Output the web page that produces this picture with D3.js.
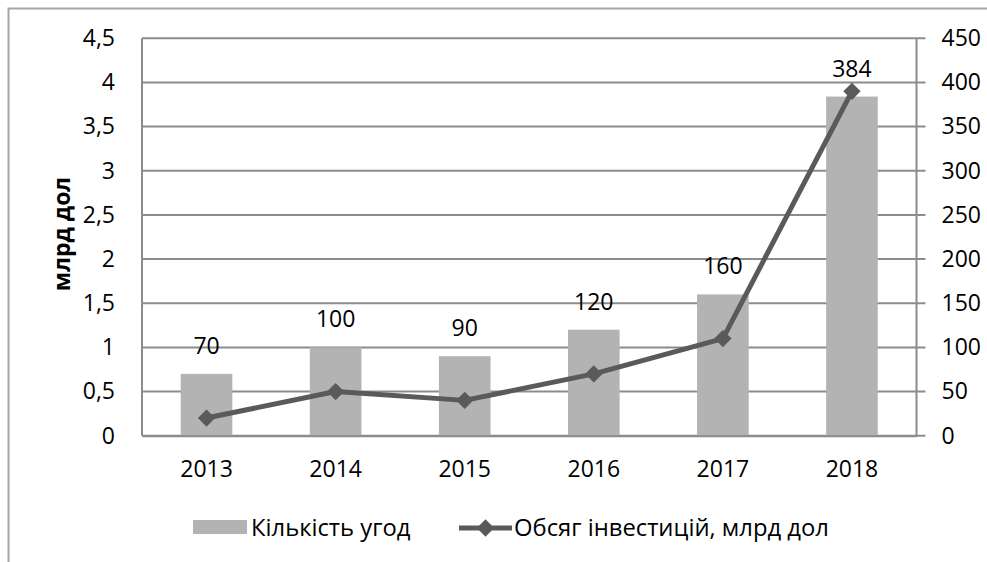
<!DOCTYPE html>
<html><head><meta charset="utf-8">
<script src="https://cdn.jsdelivr.net/npm/d3@7"></script>
<style>
html,body{margin:0;padding:0;background:#fff;}
svg text{font-family:"Open Sans","Liberation Sans",sans-serif;fill:#000;}
</style></head>
<body>
<svg id="chart" width="987" height="562"></svg>
<script>
const years = ["2013","2014","2015","2016","2017","2018"];
const deals = [70, 100, 90, 120, 160, 384];           // Кількість угод (right axis)
const invest = [0.2, 0.5, 0.4, 0.7, 1.1, 3.9];         // Обсяг інвестицій, млрд дол (left axis)
const leftTicks = [0, 0.5, 1, 1.5, 2, 2.5, 3, 3.5, 4, 4.5];
const rightTicks = [0, 50, 100, 150, 200, 250, 300, 350, 400, 450];
const seriesNames = ["Кількість угод", "Обсяг інвестицій, млрд дол"];
const yTitle = "млрд дол";

const FS = "23px";
const FSL = "23.8px";
const svg = d3.select("#chart");
const m = {left: 142, right: 916.5, top: 38.3, bottom: 435.7};
const grid = "#8c8c8c";

// outer chart border (cropped at right/bottom)
svg.append("path").attr("d", "M8.5,562 V8.5 H987").attr("fill","none").attr("stroke","#a6a6a6").attr("stroke-width",2);

const x = d3.scaleBand().domain(years).range([m.left, m.right]).paddingInner(0.6).paddingOuter(0.3);
const xc = d => x(d) + x.bandwidth()/2;
const yL = d3.scaleLinear().domain([0, 4.5]).range([m.bottom, m.top]);
const yR = d3.scaleLinear().domain([0, 450]).range([m.bottom, m.top]);

// gridlines (extend to right tick marks)
svg.append("g").selectAll("line").data(rightTicks).join("line")
  .attr("x1", m.left).attr("x2", m.right + 9)
  .attr("y1", d => yR(d)).attr("y2", d => yR(d))
  .attr("stroke", grid).attr("stroke-width", 2);

// vertical axis lines
[m.left, m.right].forEach(xx => svg.append("line").attr("x1", xx).attr("x2", xx)
  .attr("y1", m.top).attr("y2", m.bottom).attr("stroke", grid).attr("stroke-width", 2));

// left axis
const fmt = d => String(d).replace(".", ",");
const gl = svg.append("g").attr("transform", `translate(${m.left},0)`)
  .call(d3.axisLeft(yL).tickValues(leftTicks).tickFormat(fmt).tickSize(0).tickPadding(27));
gl.select(".domain").remove();
gl.selectAll("text").style("font-size",FS).style("font-family","'Open Sans'");

// right axis
const gr = svg.append("g").attr("transform", `translate(${m.right},0)`)
  .call(d3.axisRight(yR).tickValues(rightTicks).tickSize(0).tickPadding(25));
gr.select(".domain").remove();
gr.selectAll("text").style("font-size",FS).style("font-family","'Open Sans'");

// bars
svg.append("g").selectAll("rect").data(deals).join("rect")
  .attr("x", (d,i) => x(years[i])).attr("width", x.bandwidth())
  .attr("y", d => yR(d)).attr("height", d => m.bottom - yR(d))
  .attr("fill", "#b3b3b3");

// x axis
const gx = svg.append("g").attr("transform", `translate(0,${m.bottom})`)
  .call(d3.axisBottom(x).tickSize(0).tickPadding(25));
gx.select(".domain").attr("stroke", grid).attr("stroke-width", 2);
gx.selectAll("text").style("font-size",FS).style("font-family","'Open Sans'");

// bar labels
svg.append("g").selectAll("text").data(deals).join("text")
  .attr("x", (d,i) => xc(years[i])).attr("y", d => yR(d) - 20)
  .attr("text-anchor","middle").style("font-size",FS).text(d => d);

// line
const lineCol = "#5a5a5a";
const line = d3.line().x((d,i) => xc(years[i])).y(d => yL(d));
svg.append("path").datum(invest).attr("d", line).attr("fill","none")
  .attr("stroke", lineCol).attr("stroke-width", 5).attr("stroke-linejoin","round");
const marker = d3.symbol().type(d3.symbolSquare).size(150);
svg.append("g").selectAll("path").data(invest).join("path")
  .attr("d", marker)
  .attr("transform", (d,i) => `translate(${xc(years[i])},${yL(d)}) rotate(45)`)
  .attr("fill", lineCol);

// y title
svg.append("text").attr("transform", "translate(70,234) rotate(-90)")
  .attr("text-anchor","middle").style("font-size",FS).style("font-weight","bold").text(yTitle);

// legend
const lg = svg.append("g");
lg.append("rect").attr("x",193).attr("y",520).attr("width",54).attr("height",14).attr("fill","#b3b3b3");
lg.append("text").attr("x",251).attr("y",536).style("font-size",FSL).text(seriesNames[0]);
lg.append("line").attr("x1",459).attr("x2",512).attr("y1",528).attr("y2",528).attr("stroke",lineCol).attr("stroke-width",5);
lg.append("path").attr("d", marker).attr("transform","translate(485.5,528) rotate(45)").attr("fill",lineCol);
lg.append("text").attr("x",514).attr("y",536).style("font-size",FSL).text(seriesNames[1]);
</script>
</body></html>
